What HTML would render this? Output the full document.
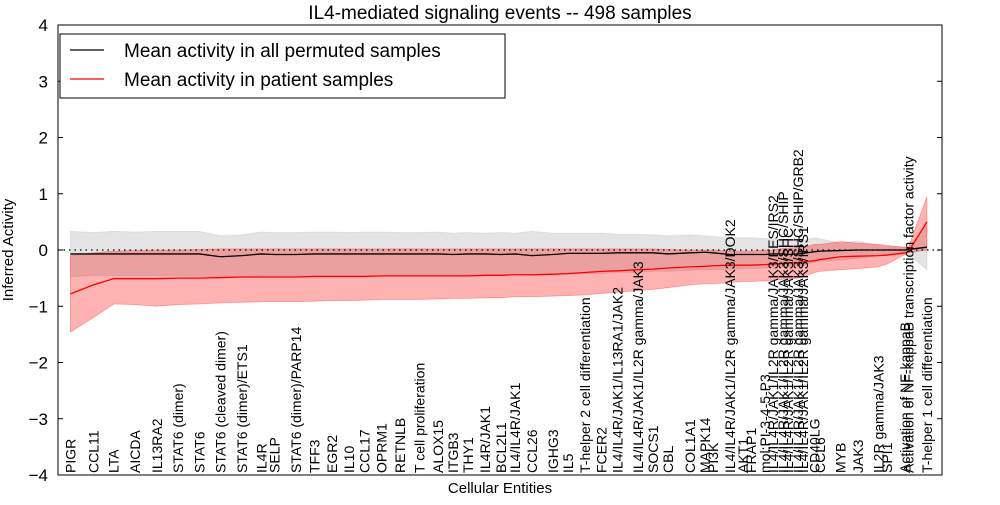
<!DOCTYPE html>
<html><head><meta charset="utf-8"><style>
body{margin:0;background:#fff;}
svg text{font-family:"Liberation Sans","DejaVu Sans",sans-serif;}
</style></head><body>
<svg id="chart" width="1000" height="500" xmlns="http://www.w3.org/2000/svg"></svg>
<script>
const entities=["PIGR","CCL11","LTA","AICDA","IL13RA2","STAT6 (dimer)","STAT6","STAT6 (cleaved dimer)","STAT6 (dimer)/ETS1","IL4R","SELP","STAT6 (dimer)/PARP14","TFF3","EGR2","IL10","CCL17","OPRM1","RETNLB","T cell proliferation","ALOX15","ITGB3","THY1","IL4R/JAK1","BCL2L1","IL4/IL4R/JAK1","CCL26","IGHG3","IL5","T-helper 2 cell differentiation","FCER2","IL4/IL4R/JAK1/IL13RA1/JAK2","IL4/IL4R/JAK1/IL2R gamma/JAK3","SOCS1","CBL","COL1A1","MAPK14","PI3K","IL4/IL4R/JAK1/IL2R gamma/JAK3/DOK2","AKT1","FRAP1","mol:PI-3-4-5-P3","IL4/IL4R/JAK1/IL2R gamma/JAK3/FES/IRS2","IL4/IL4R/JAK1/IL2R gamma/JAK3/SHC/SHIP","IL4/IL4R/JAK1/IL2R gamma/JAK3/SHC","IL4/IL4R/JAK1/IL2R gamma/JAK3/SHC/SHIP/GRB2","IL4/IL4R/JAK1/IL2R gamma/JAK3/IRS1","CD40LG","CCL6","MYB","JAK3","IL2R gamma/JAK3","SPI1","Activation of NF-kappaB","Activation of NF-kappaB transcription factor activity","T-helper 1 cell differentiation"];
const xPos=[1.4,4.0,6.3,8.7,11.2,13.6,16.0,18.4,20.8,23.0,24.5,26.9,29.0,31.0,32.9,34.7,36.6,38.7,40.9,43.0,44.7,46.4,48.3,50.1,51.7,53.6,56.0,57.7,59.6,61.5,63.3,65.6,67.3,69.0,71.5,73.2,74.1,76.0,77.5,78.4,80.0,80.9,82.0,82.6,83.7,84.3,85.6,86.2,88.5,90.5,92.8,93.8,95.8,96.2,98.3];
const permMean=[-0.07,-0.07,-0.07,-0.07,-0.07,-0.07,-0.07,-0.12,-0.1,-0.07,-0.08,-0.08,-0.07,-0.07,-0.07,-0.07,-0.07,-0.07,-0.07,-0.07,-0.08,-0.07,-0.07,-0.08,-0.07,-0.1,-0.08,-0.06,-0.06,-0.06,-0.05,-0.05,-0.05,-0.07,-0.05,-0.04,-0.05,-0.08,-0.08,-0.08,-0.08,-0.07,-0.07,-0.08,-0.07,-0.06,-0.03,-0.02,-0.01,0,0,0,0,0.01,0.05];
const permHigh=[0.33,0.31,0.33,0.32,0.33,0.33,0.33,0.25,0.27,0.32,0.31,0.31,0.32,0.32,0.31,0.32,0.32,0.31,0.31,0.32,0.3,0.31,0.3,0.31,0.3,0.33,0.3,0.3,0.3,0.3,0.28,0.28,0.27,0.25,0.27,0.25,0.24,0.22,0.22,0.22,0.2,0.2,0.18,0.18,0.15,0.17,0.22,0.2,0.12,0.16,0.08,0.06,0.05,0.05,0.45];
const permLow=[-0.48,-0.45,-0.46,-0.46,-0.46,-0.46,-0.46,-0.5,-0.48,-0.46,-0.46,-0.46,-0.45,-0.45,-0.45,-0.45,-0.45,-0.45,-0.45,-0.45,-0.45,-0.45,-0.44,-0.44,-0.44,-0.45,-0.44,-0.43,-0.42,-0.42,-0.4,-0.4,-0.38,-0.38,-0.36,-0.35,-0.35,-0.35,-0.33,-0.33,-0.32,-0.32,-0.3,-0.3,-0.28,-0.27,-0.22,-0.2,-0.18,-0.15,-0.1,-0.1,-0.08,-0.08,-0.35];
const patMean=[-0.78,-0.62,-0.51,-0.51,-0.51,-0.5,-0.5,-0.49,-0.48,-0.48,-0.48,-0.48,-0.47,-0.47,-0.47,-0.47,-0.46,-0.46,-0.46,-0.46,-0.46,-0.46,-0.45,-0.45,-0.44,-0.44,-0.43,-0.42,-0.4,-0.38,-0.37,-0.35,-0.34,-0.32,-0.3,-0.29,-0.28,-0.27,-0.27,-0.27,-0.26,-0.25,-0.24,-0.23,-0.22,-0.21,-0.19,-0.17,-0.12,-0.11,-0.1,-0.09,-0.05,-0.03,0.5];
const patHigh=[-0.1,-0.05,-0.02,-0.01,0,0,0.01,0.02,0.02,0.02,0.02,0.02,0.02,0.02,0.02,0.02,0.02,0.02,0.02,0.02,0.02,0.02,0.02,0.02,0.02,0.02,0.02,0.02,0.02,0.02,0.02,0.02,0.02,0.01,0.0,0,0,-0.02,-0.02,-0.02,0,0,0.03,0.03,0.05,0.05,0.1,0.1,0.15,0.12,0.1,0.08,0.05,0.05,0.95];
const patLow=[-1.46,-1.2,-0.96,-0.97,-1.0,-0.97,-0.96,-0.94,-0.93,-0.92,-0.92,-0.92,-0.91,-0.9,-0.9,-0.89,-0.88,-0.88,-0.88,-0.87,-0.86,-0.86,-0.85,-0.85,-0.83,-0.83,-0.82,-0.81,-0.8,-0.77,-0.75,-0.72,-0.7,-0.67,-0.62,-0.6,-0.6,-0.58,-0.56,-0.56,-0.55,-0.54,-0.52,-0.52,-0.5,-0.48,-0.4,-0.38,-0.35,-0.33,-0.3,-0.25,-0.08,-0.05,0.0];
const yTicks=[4,3,2,1,0,-1,-2,-3,-4];

const L=58,R=942,T=25,B=475;
const xs=v=>L+v/100*(R-L);
const ys=v=>T+(4-v)/8*(B-T);
const svg=document.getElementById('chart');
const NS='http://www.w3.org/2000/svg';
function mk(tag,attrs,parent){const e=document.createElementNS(NS,tag);for(const k in attrs)e.setAttribute(k,attrs[k]);(parent||svg).appendChild(e);return e;}
function band(hi,lo,fill,op,name){
  let d='M'+xPos.map((x,i)=>xs(x)+','+ys(hi[i])).join('L');
  for(let i=xPos.length-1;i>=0;i--)d+='L'+xs(xPos[i])+','+ys(lo[i]);
  const p=mk('path',{d:d+'Z',fill:fill,'fill-opacity':op,stroke:fill,'stroke-opacity':op,'stroke-width':0.8});
  
  
}
function line(vals,color,name){
  const p=mk('path',{d:'M'+xPos.map((x,i)=>xs(x)+','+ys(vals[i])).join('L'),fill:'none',stroke:color,'stroke-width':1.3});
  
  
}
band(permHigh,permLow,'#bbbbbb',0.4,'permuted-band');
band(patHigh,patLow,'#ff0000',0.3,'patient-band');
const zl=mk('line',{x1:L,x2:R,y1:ys(0),y2:ys(0),stroke:'#000','stroke-dasharray':'1.5,4','stroke-width':1.2});


line(permMean,'#000','permuted-mean-line');
line(patMean,'#ff0000','patient-mean-line');
const fr=mk('rect',{x:L,y:T,width:R-L,height:B-T,fill:'none',stroke:'#000','stroke-width':1});


yTicks.forEach(t=>{
  const y=ys(t);
  mk('line',{x1:L,x2:L+5,y1:y,y2:y,stroke:'#000'});
  mk('line',{x1:R-5,x2:R,y1:y,y2:y,stroke:'#000'});
  const tx=mk('text',{x:L-10,y:y+6,'text-anchor':'end','font-size':17});
  tx.textContent=(t<0?'\u2212':'')+Math.abs(t);
  
  
});
entities.forEach((n,i)=>{
  const x=xs(xPos[i]);
  const t=mk('text',{x:0,y:0,'font-size':14,transform:'translate('+(x+5)+','+(B-2)+') rotate(-90)'});
  t.textContent=n;
  
  
});
</script>
<svg style="position:absolute;left:0;top:0" width="1000" height="500">
<text x="500" y="19" text-anchor="middle" font-size="19">IL4-mediated signaling events -- 498 samples</text>
<text x="500" y="493" text-anchor="middle" font-size="15">Cellular Entities</text>
<text transform="translate(13,250) rotate(-90)" text-anchor="middle" font-size="15">Inferred Activity</text>
<g>
<rect x="60" y="34" width="445" height="64" fill="#fff" stroke="#000"/>
<line x1="70" x2="104" y1="50" y2="50" stroke="#000" stroke-width="1.3"/>
<text x="124" y="57" font-size="19">Mean activity in all permuted samples</text>
<line x1="70" x2="104" y1="79" y2="79" stroke="#f00" stroke-width="1.3"/>
<text x="124" y="86" font-size="19">Mean activity in patient samples</text>
</g>
</svg>
</body></html>
